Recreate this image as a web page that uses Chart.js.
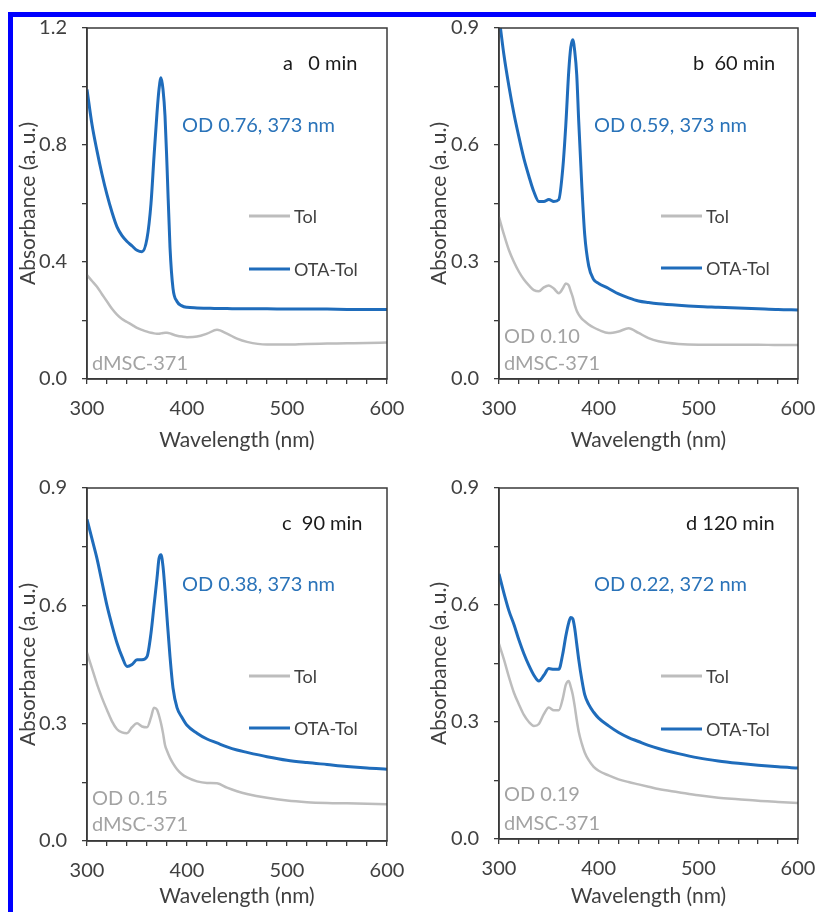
<!DOCTYPE html>
<html><head><meta charset="utf-8">
<script src="https://cdn.jsdelivr.net/npm/chart.js@4/dist/chart.umd.min.js"></script>
<style>
body{margin:0;width:816px;height:912px;position:relative;background:#fff;overflow:hidden;font-family:Lato,"Liberation Sans",sans-serif}
canvas{position:absolute}
.bar{position:absolute;background:#0000ff}
.t{position:absolute;white-space:pre;line-height:1;transform:translateY(-50%)}
.leg{position:absolute;height:3px;width:41px;transform:translateY(-50%)}
</style></head>
<body>
<script>
// ---- data ----
const wavelengths = [300,305,310,315,320,325,330,335,340,345,350,355,360,364,367,370,372,374,376,378,380,383,386,390,395,400,410,420,430,440,450,460,480,500,520,540,560,580,600];

const tol0   = [0.355,0.335,0.315,0.29,0.265,0.24,0.22,0.205,0.195,0.185,0.175,0.168,0.162,0.158,0.156,0.155,0.155,0.156,0.157,0.158,0.158,0.156,0.152,0.148,0.145,0.143,0.145,0.155,0.168,0.155,0.138,0.127,0.118,0.118,0.12,0.121,0.122,0.123,0.125];
const ota0   = [0.99,0.87,0.78,0.70,0.63,0.57,0.52,0.49,0.47,0.455,0.44,0.435,0.48,0.60,0.76,0.91,0.99,1.03,0.99,0.90,0.73,0.45,0.31,0.265,0.25,0.245,0.243,0.242,0.241,0.241,0.240,0.240,0.240,0.239,0.239,0.239,0.238,0.238,0.238];

const tol60  = [0.415,0.37,0.33,0.30,0.275,0.255,0.24,0.228,0.225,0.235,0.24,0.232,0.22,0.232,0.245,0.24,0.225,0.21,0.19,0.175,0.165,0.155,0.148,0.14,0.132,0.126,0.118,0.122,0.13,0.118,0.105,0.097,0.09,0.088,0.088,0.088,0.088,0.087,0.087];
const ota60  = [0.93,0.83,0.75,0.68,0.62,0.565,0.52,0.48,0.455,0.455,0.46,0.455,0.46,0.54,0.65,0.79,0.85,0.87,0.84,0.78,0.66,0.50,0.37,0.29,0.255,0.245,0.232,0.218,0.208,0.20,0.196,0.193,0.189,0.186,0.184,0.182,0.18,0.178,0.177];

const tol90  = [0.48,0.44,0.40,0.365,0.334,0.305,0.285,0.277,0.275,0.29,0.30,0.292,0.29,0.315,0.34,0.335,0.32,0.30,0.275,0.245,0.23,0.212,0.198,0.183,0.17,0.162,0.152,0.148,0.147,0.136,0.127,0.12,0.11,0.103,0.099,0.097,0.096,0.095,0.094];
const ota90  = [0.82,0.77,0.72,0.66,0.60,0.55,0.505,0.47,0.445,0.45,0.462,0.462,0.47,0.53,0.60,0.67,0.72,0.73,0.70,0.64,0.57,0.47,0.39,0.34,0.315,0.295,0.275,0.26,0.25,0.24,0.232,0.226,0.215,0.206,0.20,0.195,0.19,0.186,0.183];

const tol120 = [0.50,0.46,0.415,0.375,0.345,0.318,0.30,0.29,0.295,0.32,0.337,0.33,0.33,0.36,0.395,0.405,0.39,0.37,0.34,0.305,0.275,0.245,0.222,0.202,0.185,0.175,0.163,0.153,0.146,0.14,0.134,0.128,0.12,0.112,0.106,0.102,0.098,0.095,0.092];
const ota120 = [0.68,0.63,0.585,0.55,0.51,0.475,0.445,0.42,0.405,0.42,0.437,0.435,0.435,0.475,0.52,0.555,0.568,0.565,0.54,0.50,0.46,0.41,0.37,0.345,0.325,0.31,0.29,0.273,0.26,0.25,0.24,0.232,0.219,0.208,0.20,0.194,0.189,0.185,0.182];

const seriesNames = ['Tol','OTA-Tol'];
const panelTitles = ['a   0 min','b  60 min','c  90 min','d 120 min'];
const odLabels    = ['OD 0.76, 373 nm','OD 0.59, 373 nm','OD 0.38, 373 nm','OD 0.22, 372 nm'];
const tolOdLabels = ['','OD 0.10','OD 0.15','OD 0.19'];
const sampleLabel = 'dMSC-371';
const yMax        = [1.2, 0.9, 0.9, 0.9];
const yMinorStep  = [0.2, 0.15, 0.15, 0.15];
const yMajorStep  = [0.4, 0.3, 0.3, 0.3];
const xMin = 300, xMax = 600, xMinorStep = 20, xMajorStep = 100;
const xTitle = 'Wavelength (nm)';
const yTitle = 'Absorbance (a. u.)';

// ---- styles / layout ----
const BLUE = '#1f6cbb', BLUE_T = '#2a73b9', GRAY = '#bdbdbd', GRAY_T = '#a3a3a3', AXIS = '#3a3a3a', LBL = '#404040';
const FONT = 'Lato';
const layouts = [
  {left:0,   top:0,   yw:87, pt:28, pr:21, xh:77, ytp:16},
  {left:408, top:0,   yw:91, pt:28, pr:18, xh:77, ytp:19},
  {left:0,   top:456, yw:87, pt:32, pr:21, xh:71, ytp:16},
  {left:408, top:456, yw:91, pt:32, pr:18, xh:73, ytp:19}
];
const textPos = [
  {title:[283,62], od:[182,124], leg:[249,216,269], tolod:null,     smp:[92,362]},
  {title:[693,62], od:[594,124], leg:[661,216,268], tolod:[504,335], smp:[504,362]},
  {title:[282,522],od:[182,583], leg:[249,676,728], tolod:[92,797],  smp:[92,823]},
  {title:[686,522],od:[594,583], leg:[661,676,729], tolod:[504,793], smp:[504,822]}
];
const tolSeries = [tol0, tol60, tol90, tol120];
const otaSeries = [ota0, ota60, ota90, ota120];

const boxPlugin = {id:'box', afterDraw(c){const a=c.chartArea,ctx=c.ctx;ctx.save();ctx.strokeStyle=AXIS;ctx.lineWidth=1.5;ctx.strokeRect(a.left,a.top,a.right-a.left,a.bottom-a.top);ctx.restore();}};

function addText(txt, x, y, size, color){
  const d=document.createElement('div'); d.className='t'; d.textContent=txt;
  d.style.left=x+'px'; d.style.top=y+'px'; d.style.fontSize=size+'px'; d.style.color=color;
  document.body.appendChild(d);
}

function isMajor(v, step){ return Math.abs(v/step - Math.round(v/step)) < 1e-6; }

for (let p=0;p<4;p++){
  const L = layouts[p];
  const cv = document.createElement('canvas');
  cv.width=408; cv.height=456; cv.style.left=L.left+'px'; cv.style.top=L.top+'px';
  document.body.appendChild(cv);
  const mk = (arr)=>wavelengths.map((w,i)=>({x:w,y:arr[i]}));
  new Chart(cv.getContext('2d'), {
    type:'line',
    data:{datasets:[
      {label:seriesNames[0], data:mk(tolSeries[p]), borderColor:GRAY, borderWidth:2.5, pointRadius:0, cubicInterpolationMode:'monotone'},
      {label:seriesNames[1], data:mk(otaSeries[p]), borderColor:BLUE, borderWidth:3, pointRadius:0, cubicInterpolationMode:'monotone'}
    ]},
    options:{
      responsive:false, animation:false, devicePixelRatio:1,
      layout:{padding:{top:L.pt, right:L.pr, left:0, bottom:0}},
      plugins:{legend:{display:false}, tooltip:{enabled:false}},
      scales:{
        x:{type:'linear', min:xMin, max:xMax,
           ticks:{stepSize:xMinorStep, autoSkip:false, maxRotation:0, padding:13, color:LBL, font:{family:FONT,size:20},
                  callback:v=>isMajor(v,xMajorStep)?String(v):''},
           grid:{drawOnChartArea:false, tickLength:5, color:AXIS, lineWidth:1.3},
           border:{color:AXIS, width:1.5},
           title:{display:true, text:xTitle, color:LBL, font:{family:FONT,size:21}, padding:{top:0,bottom:3}},
           afterFit(s){s.height=L.xh; s.paddingLeft=0; s.paddingRight=0;}},
        y:{min:0, max:yMax[p],
           ticks:{stepSize:yMinorStep[p], autoSkip:false, padding:15, color:LBL, font:{family:FONT,size:20},
                  callback:v=>isMajor(v,yMajorStep[p])?v.toFixed(1):''},
           grid:{drawOnChartArea:false, tickLength:5, color:AXIS, lineWidth:1.3},
           border:{color:AXIS, width:1.5},
           title:{display:true, text:yTitle, color:LBL, font:{family:FONT,size:21}, padding:{top:L.ytp,bottom:0}},
           afterFit(s){s.width=L.yw; s.paddingTop=0; s.paddingBottom=0;}}
      }
    },
    plugins:[boxPlugin]
  });
  const T = textPos[p];
  addText(panelTitles[p], T.title[0], T.title[1], 20, '#1a1a1a');
  addText(odLabels[p], T.od[0], T.od[1], 20, BLUE_T);
  const l1=document.createElement('div'); l1.className='leg'; l1.style.left=T.leg[0]+'px'; l1.style.top=T.leg[1]+'px'; l1.style.background=GRAY; document.body.appendChild(l1);
  const l2=document.createElement('div'); l2.className='leg'; l2.style.left=T.leg[0]+'px'; l2.style.top=T.leg[2]+'px'; l2.style.background=BLUE; document.body.appendChild(l2);
  addText(seriesNames[0], T.leg[0]+45, T.leg[1], 18, LBL);
  addText(seriesNames[1], T.leg[0]+45, T.leg[2], 18, LBL);
  if (T.tolod) addText(tolOdLabels[p], T.tolod[0], T.tolod[1], 20, GRAY_T);
  addText(sampleLabel, T.smp[0], T.smp[1], 20, GRAY_T);
}
const b1=document.createElement('div'); b1.className='bar'; Object.assign(b1.style,{left:'8px',top:'12px',width:'808px',height:'5px'}); document.body.appendChild(b1);
const b2=document.createElement('div'); b2.className='bar'; Object.assign(b2.style,{left:'8px',top:'12px',width:'5px',height:'900px'}); document.body.appendChild(b2);
</script>
</body></html>
